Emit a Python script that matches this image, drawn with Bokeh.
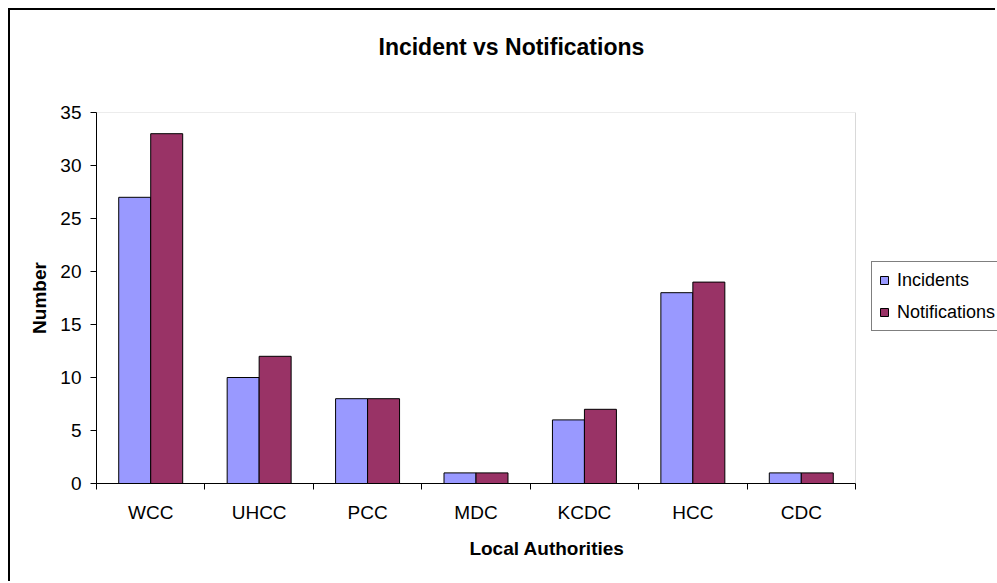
import numpy as np
from bokeh.plotting import figure
from bokeh.models import (ColumnDataSource, Range1d, FixedTicker, Legend, LegendItem,
                          Title, BoxAnnotation)
from bokeh.transform import dodge
from bokeh.embed import file_html
from bokeh.resources import INLINE

categories = ["WCC", "UHCC", "PCC", "MDC", "KCDC", "HCC", "CDC"]
incidents = [27, 10, 8, 1, 6, 18, 1]
notifications = [33, 12, 8, 1, 7, 19, 1]
y_ticks = [0, 5, 10, 15, 20, 25, 30, 35]
y_max = 35

FONT = "Liberation Sans"

# layout (pixels): plot area is 759 px wide, frame extends to the canvas edge
FIG_W, FIG_H = 987, 573
LEFT, TOP, BOTTOM = 86, 102, 100
PLOT_W = 759
FRAME_W = FIG_W - LEFT
n = len(categories)

centers = [i + 0.5 for i in range(n)]
bounds = list(range(n + 1))
src = ColumnDataSource(dict(x=centers, inc=incidents, notif=notifications))

p = figure(width=FIG_W, height=FIG_H, output_backend="svg", toolbar_location=None,
           title=None,
           x_range=Range1d(0, n * FRAME_W / PLOT_W), y_range=Range1d(0, y_max),
           min_border_left=LEFT, min_border_right=0, min_border_top=TOP,
           min_border_bottom=BOTTOM,
           background_fill_color="white", border_fill_color="white")
p.styles = {"border-left": "2px solid black", "border-top": "2px solid black",
            "margin-left": "8px", "margin-top": "8px"}

p.outline_line_color = None
p.xgrid.visible = False
p.ygrid.visible = False

# plot-area frame (gray top/right edges; left/bottom are covered by the axes)
p.add_layout(BoxAnnotation(left=0, right=n, bottom=0, top=y_max, fill_alpha=0,
                           line_color="#808080", line_width=1, level="underlay"))

r1 = p.vbar(x=dodge("x", -0.1475, range=p.x_range), top="inc", width=0.295, source=src,
            fill_color="#9999FF", line_color="black", line_width=1)
r2 = p.vbar(x=dodge("x", 0.1475, range=p.x_range), top="notif", width=0.295, source=src,
            fill_color="#993366", line_color="black", line_width=1)

# x axis
xa = p.xaxis[0]
xa.bounds = (0, n)
xa.ticker = FixedTicker(ticks=centers, minor_ticks=bounds)
xa.major_label_overrides = {c: lab for c, lab in zip(centers, categories)}
xa.major_tick_out = 0
xa.major_tick_in = 0
xa.minor_tick_out = 6
xa.minor_tick_in = 0
xa.minor_tick_line_color = "black"
xa.axis_line_color = "black"
xa.major_label_standoff = 12
xa.major_label_text_font = FONT
xa.major_label_text_font_size = "19px"
xa.major_label_text_color = "black"
xa.axis_label = "Local Authorities"
xa.axis_label_text_font = FONT
xa.axis_label_text_font_size = "19px"
xa.axis_label_text_font_style = "bold"
xa.axis_label_text_color = "black"
xa.axis_label_standoff = 12

ya = p.yaxis[0]
ya.ticker = FixedTicker(ticks=y_ticks, minor_ticks=[])
ya.major_tick_out = 6
ya.major_tick_in = 0
ya.major_tick_line_color = "black"
ya.axis_line_color = "black"
ya.major_label_standoff = 9
ya.major_label_text_font = FONT
ya.major_label_text_font_size = "19px"
ya.major_label_text_color = "black"
ya.axis_label = "Number"
ya.axis_label_text_font = FONT
ya.axis_label_text_font_size = "19px"
ya.axis_label_text_font_style = "bold"
ya.axis_label_text_color = "black"
ya.axis_label_standoff = 7

# spacer (innermost) then the real title above it
p.add_layout(Title(text=" ", text_font_size="1px", standoff=30), "above")
p.add_layout(Title(text="Incident vs Notifications", text_font=FONT, text_font_size="23px",
                   text_font_style="bold", text_color="black", align="left", offset=282,
                   standoff=39), "above")

legend = Legend(items=[LegendItem(label="Incidents", renderers=[r1]),
                       LegendItem(label="Notifications", renderers=[r2])],
                location=(PLOT_W + 16, 152), orientation="vertical",
                label_text_font=FONT, label_text_font_size="18px", label_text_color="black",
                glyph_width=10, glyph_height=10, label_height=22, label_standoff=8,
                padding=7, spacing=10, margin=0,
                border_line_color="black", border_line_width=1,
                background_fill_color="white", background_fill_alpha=1.0)
p.add_layout(legend, "center")

open("out.html", "w").write(file_html(p, INLINE))
